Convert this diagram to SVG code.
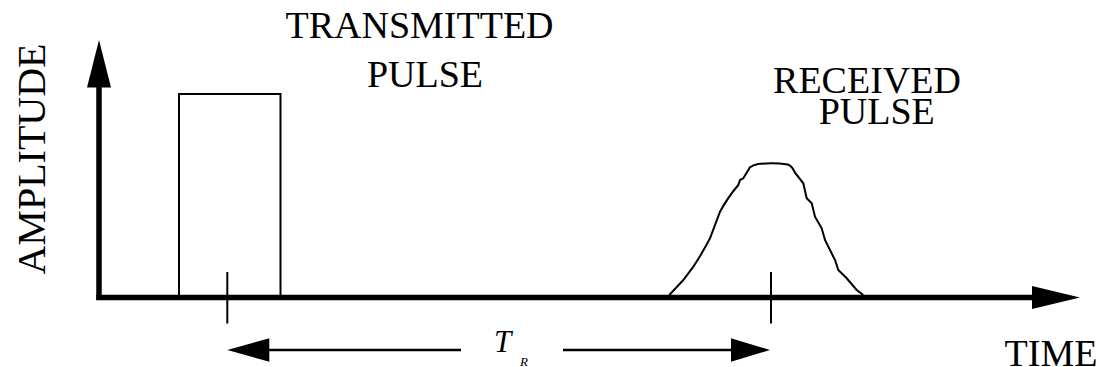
<svg xmlns="http://www.w3.org/2000/svg" width="1100" height="367" viewBox="0 0 1100 367">
<style>
.lbl{font-family:"Liberation Serif","Times New Roman",serif;font-size:38px;fill:#000}
.axis{stroke:#000;stroke-width:5.5;fill:none}
.thin{stroke:#000;stroke-width:2;fill:none}
.dim{stroke:#000;stroke-width:2.6;fill:none}
.head{fill:#000;stroke:none}
</style>
<rect width="1100" height="367" fill="#fff"/>
<g id="axes">
<line class="axis" x1="99" y1="300" x2="99" y2="86"/>
<polygon class="head" points="99,40 87,87.5 111,87.5"/>
<line class="axis" x1="96.3" y1="297.5" x2="1033" y2="297.5"/>
<polygon class="head" points="1080,297.5 1032,286 1032,309"/>
</g>
<g id="transmitted-pulse">
<polyline class="thin" points="179,296 179,94 280.5,94 280.5,296"/>
</g>
<g id="received-pulse">
<path class="thin" d="M669.3,295 L683.3,280 L693.3,266.7 Q703,252 710,238.3 L720,211.7 Q728,197 738.3,185 L740,180 L743.3,178.3 L750,167.3 Q753,165 758,164 Q773,162.5 788,164.5 Q792,166 795,172.7 L803.3,183.3 L806.7,198.3 L811.7,203.3 L815,216.7 L821.7,228.3 L825,240 L830,250 L835,260 L838.3,270 L846.7,278.3 L856.7,290 L863.3,295"/>
</g>
<g id="ticks">
<line class="thin" x1="227.3" y1="272" x2="227.3" y2="323.5"/>
<line class="thin" x1="771" y1="272" x2="771" y2="323.5"/>
</g>
<g id="connectors">
<line class="dim" x1="268" y1="350" x2="461" y2="350"/>
<polygon class="head" points="227.3,350 269.3,338.3 269.3,361.7"/>
<line class="dim" x1="563" y1="350" x2="732" y2="350"/>
<polygon class="head" points="770,350 731,338.3 731,361.7"/>
</g>
<g id="labels">
<text class="lbl" x="419.5" y="38.3" text-anchor="middle">TRANSMITTED</text>
<text class="lbl" x="425" y="87.3" text-anchor="middle">PULSE</text>
<text class="lbl" x="867" y="93.3" text-anchor="middle">RECEIVED</text>
<text class="lbl" x="876.7" y="124" text-anchor="middle">PULSE</text>
<text class="lbl" x="1051" y="365.5" text-anchor="middle">TIME</text>
<text class="lbl" style="font-size:40px" x="0" y="0" text-anchor="middle" transform="translate(45,159) rotate(-90)">AMPLITUDE</text>
<text class="lbl" style="font-style:italic;font-size:31px" x="494" y="352">T</text>
<text class="lbl" style="font-style:italic;font-size:13px" x="520" y="366">R</text>
</g>
</svg>
